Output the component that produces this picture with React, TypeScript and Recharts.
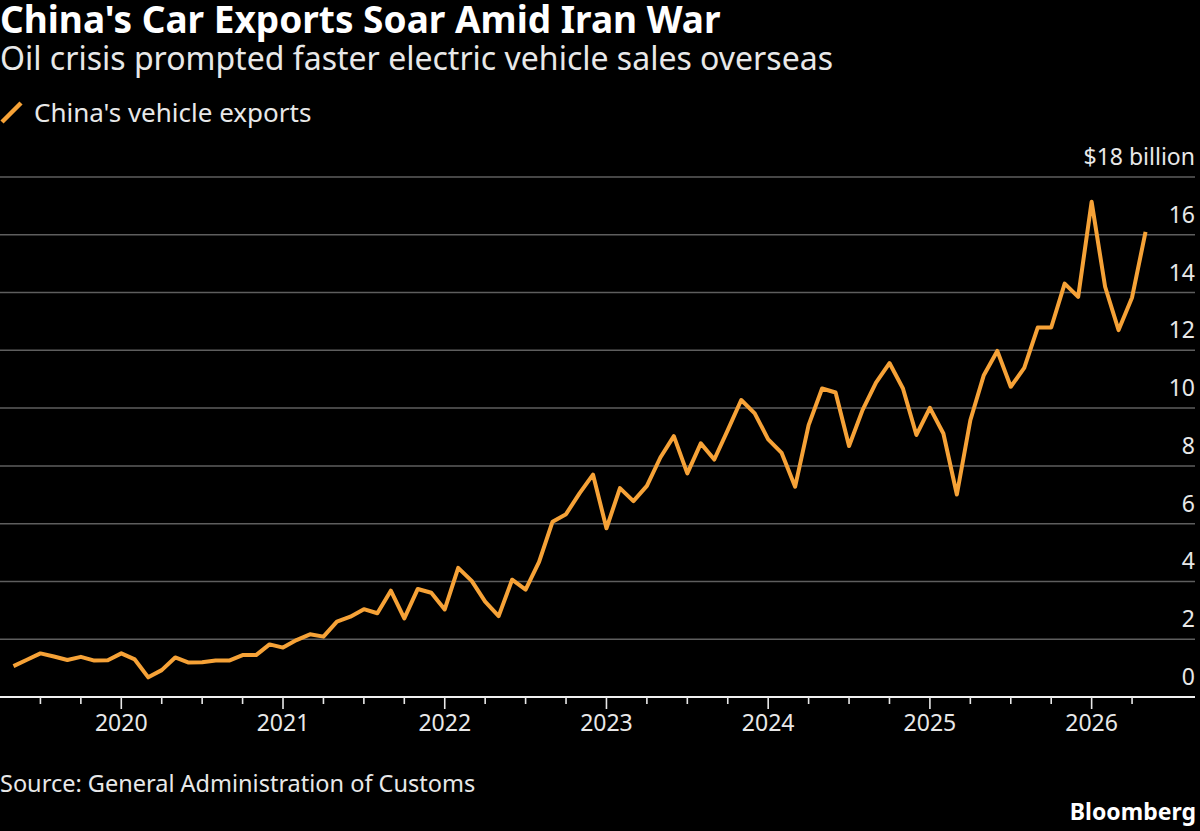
import React from "react";
import { LineChart, Line, XAxis, YAxis, CartesianGrid } from "recharts";

const months: string[] = [
  "2019-05", "2019-06", "2019-07", "2019-08", "2019-09", "2019-10", "2019-11", "2019-12",
  "2020-01", "2020-02", "2020-03", "2020-04", "2020-05", "2020-06", "2020-07", "2020-08", "2020-09", "2020-10", "2020-11", "2020-12",
  "2021-01", "2021-02", "2021-03", "2021-04", "2021-05", "2021-06", "2021-07", "2021-08", "2021-09", "2021-10", "2021-11", "2021-12",
  "2022-01", "2022-02", "2022-03", "2022-04", "2022-05", "2022-06", "2022-07", "2022-08", "2022-09", "2022-10", "2022-11", "2022-12",
  "2023-01", "2023-02", "2023-03", "2023-04", "2023-05", "2023-06", "2023-07", "2023-08", "2023-09", "2023-10", "2023-11", "2023-12",
  "2024-01", "2024-02", "2024-03", "2024-04", "2024-05", "2024-06", "2024-07", "2024-08", "2024-09", "2024-10", "2024-11", "2024-12",
  "2025-01", "2025-02", "2025-03", "2025-04", "2025-05", "2025-06", "2025-07", "2025-08", "2025-09", "2025-10", "2025-11", "2025-12",
  "2026-01", "2026-02", "2026-03", "2026-04", "2026-05",
];

// China's vehicle exports, $ billion
const exportsBn: number[] = [
  1.07, 1.29, 1.51, 1.4, 1.28, 1.39, 1.26, 1.27,
  1.51, 1.3, 0.68, 0.93, 1.37, 1.19, 1.2, 1.26, 1.26, 1.45, 1.45, 1.82,
  1.71, 1.97, 2.17, 2.09, 2.61, 2.78, 3.04, 2.9, 3.68, 2.72, 3.74, 3.61,
  3.03, 4.47, 4.02, 3.3, 2.8, 4.06, 3.72, 4.68, 6.07, 6.33, 7.05, 7.7,
  5.84, 7.23, 6.78, 7.31, 8.29, 9.03, 7.74, 8.78, 8.22, 9.24, 10.28, 9.82,
  8.92, 8.45, 7.28, 9.41, 10.68, 10.54, 8.69, 9.93, 10.88, 11.56, 10.68, 9.07,
  10.01, 9.12, 7.01, 9.58, 11.14, 11.98, 10.74, 11.39, 12.79, 12.79, 14.31, 13.85,
  17.14, 14.2, 12.7, 13.83, 16.1,
];

const yTicks: number[] = [0, 2, 4, 6, 8, 10, 12, 14, 16, 18];
const yearLabels: string[] = ["2020", "2021", "2022", "2023", "2024", "2025", "2026"];
// quarter-start tick months
const quarterTicks: string[] = [
  "2019-07", "2019-10",
  "2020-01", "2020-04", "2020-07", "2020-10",
  "2021-01", "2021-04", "2021-07", "2021-10",
  "2022-01", "2022-04", "2022-07", "2022-10",
  "2023-01", "2023-04", "2023-07", "2023-10",
  "2024-01", "2024-04", "2024-07", "2024-10",
  "2025-01", "2025-04", "2025-07", "2025-10",
  "2026-01", "2026-04",
];
const xDomainStart = "2019-04";
const xDomainEnd = "2026-08";
const xDomainEndOffset = 0.67; // fraction of a month past xDomainEnd

const monthIndex = (m: string): number => {
  const [y, mo] = m.split("-").map(Number);
  return (y - 2020) * 12 + (mo - 1);
};

const data = months.map((m, i) => ({ month: m, t: monthIndex(m), value: exportsBn[i] }));

const ORANGE = "#F6A237";
const FONT = "'Noto Sans', 'DejaVu Sans', sans-serif";
const TEXT = "#e8e8e8";

const XTick = (props: any) => {
  const { x, y, payload } = props;
  const t = payload.value as number;
  const isYear = ((t % 12) + 12) % 12 === 0;
  const year = 2020 + Math.floor(t / 12);
  const label = String(year);
  return (
    <g>
      <line x1={x} x2={x} y1={y} y2={y + (isYear ? 12 : 7)} stroke="#e8e8e8" strokeWidth={1.6} />
      {isYear && yearLabels.includes(label) ? (
        <text x={x} y={y + 34} textAnchor="middle" fill={TEXT} fontSize={23} fontFamily={FONT}>
          {label}
        </text>
      ) : null}
    </g>
  );
};

const YTick = (props: any) => {
  const { y, payload } = props;
  const v = payload.value as number;
  const label = v === 18 ? "$18 billion" : String(v);
  return (
    <text x={1195} y={y - 12} textAnchor="end" fill={TEXT} fontSize={23} fontFamily={FONT}>
      {label}
    </text>
  );
};

export default function App() {
  return (
    <div
      style={{
        position: "absolute",
        left: 0,
        top: 0,
        width: 1200,
        height: 831,
        background: "#000",
        overflow: "hidden",
        fontFamily: FONT,
      }}
    >
      <div style={{ position: "absolute", left: 0, top: 0, color: "#fff", fontSize: 37, lineHeight: "37px", fontWeight: 700, whiteSpace: "nowrap" }}>
        China's Car Exports Soar Amid Iran War
      </div>
      <div style={{ position: "absolute", left: 0, top: 42, color: TEXT, fontSize: 32, lineHeight: "32px", whiteSpace: "nowrap" }}>
        Oil crisis prompted faster electric vehicle sales overseas
      </div>
      <div style={{ position: "absolute", left: 34, top: 99, color: TEXT, fontSize: 26, lineHeight: "26px", whiteSpace: "nowrap" }}>
        China's vehicle exports
      </div>
      <svg width={30} height={30} style={{ position: "absolute", left: 0, top: 98 }}>
        <line x1={2} y1={24} x2={21} y2={5} stroke={ORANGE} strokeWidth={4.5} />
      </svg>

      <div style={{ position: "absolute", left: 0, top: 0 }}>
        <LineChart
          width={1200}
          height={831}
          data={data}
          margin={{ top: 177, right: 4, bottom: 94, left: 0 }}
        >
          <CartesianGrid horizontal vertical={false} stroke="#5e5e5e" strokeWidth={1.5} />
          <XAxis
            dataKey="t"
            type="number"
            domain={[monthIndex(xDomainStart), monthIndex(xDomainEnd) + xDomainEndOffset]}
            ticks={quarterTicks.map(monthIndex)}
            tick={<XTick />}
            tickLine={false}
            tickSize={0}
            tickMargin={0}
            axisLine={{ stroke: "#f0f0f0", strokeWidth: 2 }}
            height={40}
            interval={0}
            allowDataOverflow
          />
          <YAxis
            orientation="right"
            type="number"
            domain={[0, 18]}
            ticks={yTicks}
            tick={<YTick />}
            tickLine={false}
            axisLine={false}
            tickSize={0}
            tickMargin={0}
            width={1}
            interval={0}
          />
          <Line
            type="linear"
            dataKey="value"
            stroke={ORANGE}
            strokeWidth={4}
            dot={false}
            isAnimationActive={false}
            strokeLinejoin="round"
          />
        </LineChart>
      </div>

      <div style={{ position: "absolute", left: 0, top: 771, color: TEXT, fontSize: 23.5, lineHeight: "24px", whiteSpace: "nowrap" }}>
        Source: General Administration of Customs
      </div>
      <div style={{ position: "absolute", right: 4, top: 800, color: "#fff", fontSize: 23, lineHeight: "23px", fontWeight: 700, whiteSpace: "nowrap" }}>
        Bloomberg
      </div>
    </div>
  );
}
